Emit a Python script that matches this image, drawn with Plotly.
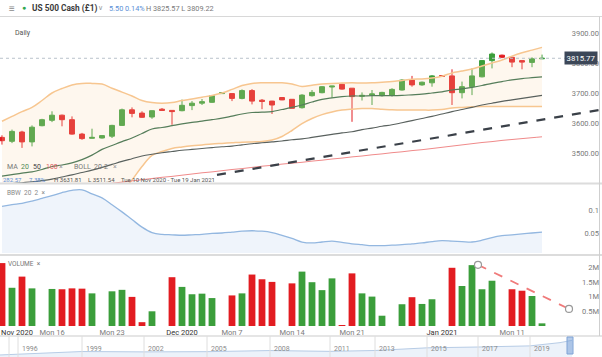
import plotly.graph_objects as go

W, H = 602, 357

# ---------------- data ----------------
dates = ["Nov 10", "Nov 11", "Nov 12", "Nov 13", "Nov 15", "Nov 16", "Nov 17", "Nov 18", "Nov 19", "Nov 20",
         "Nov 22", "Nov 23", "Nov 24", "Nov 25", "Nov 26", "Nov 27", "Nov 29", "Nov 30", "Dec 1", "Dec 2",
         "Dec 3", "Dec 4", "Dec 6", "Dec 7", "Dec 8", "Dec 9", "Dec 10", "Dec 11", "Dec 13", "Dec 14",
         "Dec 15", "Dec 16", "Dec 17", "Dec 18", "Dec 20", "Dec 21", "Dec 22", "Dec 23", "Dec 24", "Dec 27",
         "Dec 28", "Dec 29", "Dec 30", "Dec 31", "Jan 3", "Jan 4", "Jan 5", "Jan 6", "Jan 7", "Jan 8",
         "Jan 10", "Jan 11", "Jan 12", "Jan 13", "Jan 14"]

opens = [3552, 3539, 3570, 3537, 3591, 3609, 3626, 3611, 3563, 3549,
         3550, 3556, 3592, 3644, 3633, 3620, 3646, 3642, 3641, 3658,
         3666, 3669, 3698, 3698, 3682, 3708, 3676, 3673, 3685, 3679,
         3651, 3691, 3701, 3720, 3729, 3716, 3689, 3693, 3691, 3693,
         3710, 3743, 3727, 3734, 3758, 3757, 3701, 3721, 3754, 3808,
         3826, 3819, 3808, 3802, 3814]
highs = [3559, 3578, 3574, 3592, 3614, 3639, 3628, 3622, 3567, 3581,
         3559, 3594, 3648, 3652, 3639, 3642, 3650, 3643, 3678, 3673,
         3680, 3693, 3702, 3699, 3712, 3713, 3680, 3674, 3686, 3680,
         3696, 3710, 3723, 3724, 3731, 3716, 3702, 3710, 3704, 3716,
         3746, 3757, 3738, 3760, 3759, 3779, 3738, 3782, 3810, 3835,
         3828, 3821, 3808, 3819, 3828]
lows = [3528, 3533, 3517, 3522, 3589, 3603, 3589, 3561, 3544, 3548,
        3548, 3550, 3591, 3619, 3617, 3614, 3641, 3594, 3639, 3643,
        3660, 3667, 3697, 3673, 3679, 3662, 3646, 3630, 3676, 3648,
        3648, 3688, 3699, 3684, 3711, 3604, 3675, 3660, 3688, 3688,
        3708, 3721, 3724, 3721, 3754, 3660, 3682, 3693, 3752, 3782,
        3816, 3786, 3779, 3786, 3813]
closes = [3541, 3572, 3537, 3586, 3611, 3626, 3611, 3563, 3548, 3552,
          3558, 3592, 3644, 3632, 3619, 3641, 3642, 3638, 3659, 3666,
          3671, 3691, 3701, 3682, 3708, 3673, 3672, 3660, 3677, 3649,
          3693, 3702, 3721, 3723, 3713, 3688, 3692, 3697, 3702, 3712,
          3743, 3727, 3736, 3757, 3755, 3701, 3721, 3757, 3808, 3830,
          3819, 3803, 3803, 3814, 3815.77]

boll_upper = [3606, 3622, 3638, 3652, 3675, 3700, 3715, 3727, 3732, 3732,
              3730, 3716, 3703, 3690, 3675, 3668, 3666, 3668, 3675, 3680,
              3686, 3692, 3700, 3712, 3725, 3732, 3734, 3734, 3734, 3730,
              3722, 3726, 3730, 3732, 3733, 3734, 3733, 3734, 3736, 3738,
              3742, 3746, 3747, 3750, 3756, 3767, 3773, 3780, 3790, 3800,
              3810, 3823, 3834, 3843, 3852]
boll_lower = [3240, 3235, 3228, 3222, 3215, 3210, 3205, 3208, 3225, 3255,
              3295, 3335, 3372, 3410, 3455, 3492, 3505, 3515, 3520, 3524,
              3527, 3530, 3532, 3534, 3536, 3537, 3538, 3543, 3555, 3575,
              3598, 3615, 3628, 3637, 3643, 3646, 3648, 3648, 3646, 3644,
              3643, 3643, 3643, 3643, 3645, 3650, 3652, 3654, 3655, 3655,
              3655, 3655, 3655, 3655, 3655]
ma20 = [3423, 3428, 3433, 3437, 3445, 3455, 3460, 3467, 3478, 3493,
        3512, 3525, 3538, 3550, 3565, 3580, 3585, 3591, 3597, 3602,
        3606, 3611, 3616, 3623, 3630, 3635, 3636, 3638, 3645, 3652,
        3660, 3670, 3679, 3684, 3688, 3690, 3690, 3691, 3691, 3691,
        3692, 3694, 3696, 3700, 3704, 3710, 3714, 3719, 3725, 3732,
        3738, 3744, 3748, 3751, 3754]
ma50 = [3395, 3398, 3401, 3404, 3408, 3413, 3420, 3427, 3435, 3443,
        3452, 3462, 3472, 3481, 3490, 3496, 3501, 3505, 3509, 3512,
        3515, 3518, 3521, 3523, 3527, 3531, 3534, 3537, 3540, 3544,
        3547, 3552, 3557, 3562, 3567, 3571, 3578, 3583, 3589, 3594,
        3601, 3608, 3615, 3622, 3630, 3638, 3645, 3652, 3660, 3666,
        3672, 3677, 3682, 3687, 3692]
ma100 = [3355, 3359, 3363, 3367, 3371, 3375, 3379, 3383, 3387, 3391,
         3395, 3399, 3403, 3407, 3411, 3415, 3419, 3422, 3426, 3430,
         3434, 3437, 3441, 3445, 3448, 3452, 3456, 3459, 3463, 3466,
         3469, 3473, 3476, 3480, 3483, 3487, 3490, 3494, 3497, 3501,
         3504, 3508, 3511, 3515, 3519, 3523, 3527, 3531, 3535, 3538,
         3542, 3545, 3548, 3551, 3554]

bbw = [0.109, 0.113, 0.116, 0.121, 0.127, 0.133, 0.140, 0.145, 0.146, 0.137,
       0.128, 0.113, 0.097, 0.080, 0.063, 0.051, 0.047, 0.046, 0.045, 0.046,
       0.047, 0.049, 0.050, 0.052, 0.054, 0.055, 0.054, 0.051, 0.045, 0.038,
       0.030, 0.028, 0.030, 0.032, 0.029, 0.026, 0.024, 0.022, 0.022, 0.023,
       0.024, 0.026, 0.028, 0.031, 0.033, 0.032, 0.031, 0.030, 0.034, 0.040,
       0.044, 0.046, 0.048, 0.050, 0.052]

volume_m = [2.14, 1.30, 1.68, 1.28, 0.0, 1.26, 1.25, 1.28, 1.27, 1.11,
            0.0, 1.18, 1.23, 0.99, 0.13, 0.50, 0.0, 1.66, 1.33, 1.08,
            1.10, 0.95, 0.0, 1.04, 1.11, 1.75, 1.59, 1.50, 0.0, 1.45,
            1.85, 1.49, 1.22, 1.62, 0.02, 1.79, 1.11, 1.00, 0.35, 0.0,
            0.74, 0.98, 0.75, 0.91, 0.0, 1.98, 1.36, 2.07, 1.25, 1.54,
            0.0, 1.25, 1.20, 1.02, 0.09]

trend_x = [21.5, 60.0]
trend_y = [3427, 3645]
vol_trend_x = [47.6, 56.7]
vol_trend_m = [2.08, 0.58]

last_price = 3815.77

tick_pos = [1.5, 5, 11, 18, 23, 29, 35, 44, 51, 58.3]
tick_labels = ["Nov 2020", "Mon 16", "Mon 23", "Dec 2020", "Mon 7", "Mon 14", "Mon 21", "Jan 2021", "Mon 11", "Mon 18"]
month_labels = {"Nov 2020", "Dec 2020", "Jan 2021"}

price_ticks = [3500, 3600, 3700, 3800, 3900]
bbw_ticks = [0.05, 0.1, 0.15]
bbw_tick_text = ["0.05", "0.1", "0.15"]
vol_ticks_m = [0.5, 1, 1.5, 2]
vol_tick_text = ["0.5M", "1M", "1.5M", "2M"]

# navigator (long history overview)
nav_years = ["1996", "1999", "2002", "2005", "2008", "2011", "2013", "2015", "2017", "2019"]
nav_year_pos = [18, 82, 144, 207, 270, 330, 375, 427, 478, 530]
nav_x = [0, 18, 82, 144, 207, 270, 330, 375, 427, 478, 530, 560, 572]
nav_vals = [460, 615, 1230, 1150, 1200, 1450, 1270, 1460, 2060, 2250, 2500, 3230, 3750]

# ---------------- figure ----------------
GREEN = "#3b9e3b"
RED = "#e21c21"
slots = list(range(len(dates)))
volume = [v * 1e6 for v in volume_m]
vol_colors = [GREEN if c >= o else RED for o, c in zip(opens, closes)]

def py(p):
    return 1 - p / H

def px(p):
    return p / W

fig = go.Figure()

fig.add_trace(go.Scatter(x=slots, y=boll_upper, mode="lines", line=dict(color="#f7c690", width=1.5, shape="spline"),
                         xaxis="x", yaxis="y", hoverinfo="skip"))
fig.add_trace(go.Scatter(x=slots, y=boll_lower, mode="lines", line=dict(color="#f7c690", width=1.5, shape="spline"),
                         fill="tonexty", fillcolor="rgba(250,215,170,0.20)", xaxis="x", yaxis="y", hoverinfo="skip"))
fig.add_trace(go.Scatter(x=slots, y=ma100, mode="lines", line=dict(color="#f08a8a", width=1, shape="spline"),
                         xaxis="x", yaxis="y"))
fig.add_trace(go.Scatter(x=slots, y=ma50, mode="lines", line=dict(color="#59615e", width=1.1, shape="spline"),
                         xaxis="x", yaxis="y"))
fig.add_trace(go.Scatter(x=slots, y=ma20, mode="lines", line=dict(color="#557d5a", width=1.2, shape="spline"),
                         xaxis="x", yaxis="y"))
fig.add_trace(go.Scatter(x=trend_x, y=trend_y, mode="lines", line=dict(color="#3a4048", width=2.2, dash="dash"),
                         xaxis="x", yaxis="y"))
fig.add_trace(go.Candlestick(x=slots, open=opens, high=highs, low=lows, close=closes,
                             increasing=dict(line=dict(color=GREEN, width=1), fillcolor=GREEN),
                             decreasing=dict(line=dict(color=RED, width=1), fillcolor=RED),
                             whiskerwidth=0, xaxis="x", yaxis="y"))
fig.add_trace(go.Scatter(x=slots, y=bbw, mode="lines", line=dict(color="#93b7e0", width=1.3, shape="spline"),
                         fill="tozeroy", fillcolor="rgba(190,212,238,0.25)", xaxis="x", yaxis="y2"))
fig.add_trace(go.Bar(x=slots, y=volume, marker=dict(color=vol_colors, line=dict(width=0)), xaxis="x", yaxis="y3"))
fig.add_trace(go.Scatter(x=vol_trend_x, y=[v * 1e6 for v in vol_trend_m], mode="lines+markers",
                         line=dict(color="#f07a7a", width=1.8, dash="dash"),
                         marker=dict(symbol="circle", size=7, color="white", line=dict(color="#999", width=1.2)),
                         xaxis="x", yaxis="y3"))
fig.add_trace(go.Scatter(x=nav_x, y=nav_vals, mode="lines", line=dict(color="#b7cce6", width=1),
                         fill="tozeroy", fillcolor="rgba(200,218,240,0.35)", xaxis="x2", yaxis="y4"))

axis_font = dict(family="Roboto, Open Sans, sans-serif", size=7.5, color="#7a7a7a")

tick_text_fmt = [f"<span style='color:#333'>{t}</span>" if t in month_labels else t for t in tick_labels]

fig.update_layout(
    width=W, height=H, margin=dict(l=0, r=0, t=0, b=0),
    paper_bgcolor="white", plot_bgcolor="white", showlegend=False,
    font=dict(family="Roboto, Open Sans, sans-serif"),
    bargap=0.32, boxgap=0.3,
    xaxis=dict(domain=[0, 1], range=[-0.2, 60.0], anchor="y3", showgrid=False, zeroline=False,
               showline=False, ticks="", tickvals=tick_pos, ticktext=tick_text_fmt,
               tickfont=axis_font, rangeslider=dict(visible=False), fixedrange=True),
    yaxis=dict(domain=[py(183), py(18)], range=[3400, 3950], anchor="x", side="right",
               ticklabelposition="inside", tickvals=price_ticks, tickformat=".2f",
               showgrid=False, zeroline=False, showline=False, ticks="", tickfont=axis_font),
    yaxis2=dict(domain=[py(253), py(185)], range=[0.0056, 0.1567], anchor="x", side="right",
                ticklabelposition="inside", tickvals=bbw_ticks, ticktext=bbw_tick_text,
                showgrid=False, zeroline=False, showline=False, ticks="", tickfont=axis_font),
    yaxis3=dict(domain=[py(326), py(257)], range=[0, 2.347e6], anchor="x", side="right",
                ticklabelposition="inside", tickvals=[v * 1e6 for v in vol_ticks_m], ticktext=vol_tick_text,
                showgrid=False, zeroline=False, showline=False, ticks="", tickfont=axis_font),
    xaxis2=dict(domain=[0, 1], range=[0, W], anchor="y4", visible=False),
    yaxis4=dict(domain=[0, py(337)], range=[0, 4500], anchor="x2", visible=False),
)

shapes = []
line_grey = "#dcdcdc"
shapes.append(dict(type="line", xref="paper", yref="paper", x0=0, x1=1, y0=py(16.5), y1=py(16.5),
                   line=dict(color="#d8d8d8", width=1)))
for yy in (183.5, 255):
    shapes.append(dict(type="line", xref="paper", yref="paper", x0=0, x1=1, y0=py(yy), y1=py(yy),
                       line=dict(color=line_grey, width=2)))
shapes.append(dict(type="line", xref="paper", yref="paper", x0=0, x1=1, y0=py(336), y1=py(336),
                   line=dict(color=line_grey, width=1.5)))
shapes.append(dict(type="line", xref="paper", yref="paper", x0=px(599.5), x1=px(599.5), y0=py(336), y1=py(16.5),
                   line=dict(color="#cfcfcf", width=1)))
shapes.append(dict(type="line", xref="paper", yref="y", x0=0, x1=px(566), y0=last_price, y1=last_price,
                   line=dict(color="#b9c2cc", width=1, dash="dot")))
for xp in nav_year_pos:
    shapes.append(dict(type="line", xref="paper", yref="paper", x0=px(xp), x1=px(xp), y0=0, y1=py(336),
                       line=dict(color="#dedede", width=1)))
shapes.append(dict(type="line", xref="paper", yref="paper", x0=px(9), x1=px(9), y0=0, y1=py(336),
                   line=dict(color="#dedede", width=1)))
shapes.append(dict(type="rect", xref="paper", yref="paper", x0=px(567), x1=px(573), y0=py(354), y1=py(337),
                   fillcolor="rgba(120,160,215,0.55)", line=dict(color="#7fa3d6", width=1)))
fig.update_layout(shapes=shapes)

ann = []

def text(x, y, s, size=7.5, color="#777", xanchor="left", **kw):
    ann.append(dict(x=px(x), y=py(y), xref="paper", yref="paper", text=s, showarrow=False,
                    xanchor=xanchor, yanchor="middle", font=dict(size=size, color=color,
                    family="Roboto, Open Sans, sans-serif"), **kw))

text(12, 8, "≡", size=10, color="#8a8a8a", xanchor="center")
text(24, 8, "●", size=7, color="#2fa84f", xanchor="center")
text(30, 8, "<b>US 500 Cash (£1)</b>", size=8.3, color="#3a3a3a")
text(100, 8, "∨", size=6.5, color="#999", xanchor="center")
text(107, 8, "5.50", size=7.3, color="#5b8fd6")
text(123, 8, "0.14%", size=7.3, color="#5b8fd6")
text(144, 8, "H 3825.57 L 3809.22", size=7.3, color="#7a7a7a")
text(13, 33, "Daily", size=7, color="#555")

text(5, 167, "MA", size=7, color="#777")
text(19, 167, "20", size=7, color="#4f8a55")
text(31, 167, "50", size=7, color="#444")
text(44, 167, "100", size=7, color="#e06060")
text(57, 167, "×", size=7, color="#999")
text(72, 167, "BOLL", size=7, color="#777")
text(92, 167, "20", size=7, color="#777")
text(102, 167, "2", size=7, color="#777")
text(111, 167, "×", size=7, color="#999")

text(1, 179, "282.57", size=6, color="#5b8fd6")
text(27, 179, "7.38%", size=6, color="#5b8fd6")
text(52, 179, "H 3631.81", size=6, color="#555")
text(86, 179, "L 3511.54", size=6, color="#555")
text(119, 179, "Tue 10 Nov 2020 - Tue 19 Jan 2021", size=6, color="#555")

text(5, 193, "BBW  20  2  ×", size=6.5, color="#888")
text(6, 264, "VOLUME  ×", size=6.5, color="#777")

ann.append(dict(x=px(598), y=last_price, xref="paper", yref="y", text="3815.77", showarrow=False,
                xanchor="right", yanchor="middle", bgcolor="#3c4758", borderpad=1.5,
                font=dict(size=7.8, color="white", family="Roboto, Open Sans, sans-serif")))

for lab, xp in zip(nav_years, nav_year_pos):
    text(xp + 2, 349, lab, size=7, color="#8c8c8c")

fig.update_layout(annotations=ann)

fig.write_html("out.html", config={"displayModeBar": False},
               post_script="document.body.style.margin='0';document.body.style.overflow='hidden';")
